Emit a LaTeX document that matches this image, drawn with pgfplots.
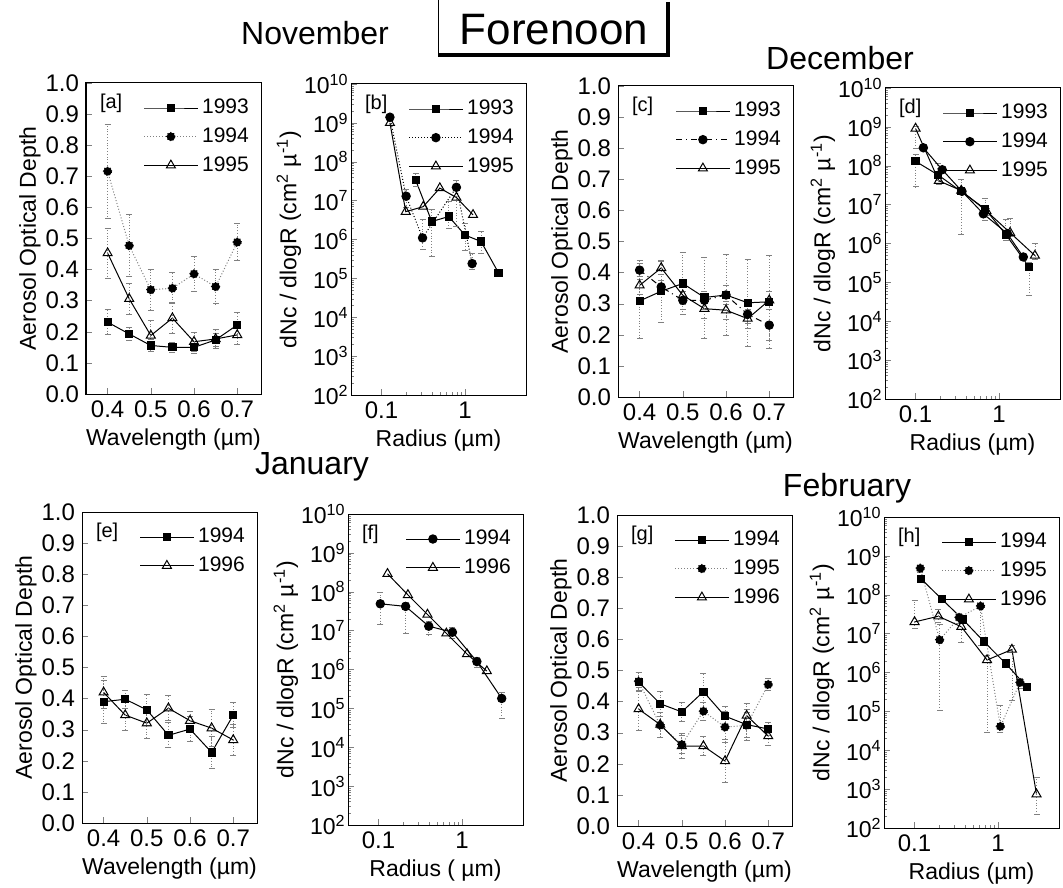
\documentclass[border=0pt]{standalone}
\usepackage{fontspec}
\setmainfont{Liberation Sans}
\usepackage{pgfplots}
\pgfplotsset{compat=1.18}

\pgfplotsset{
  base/.style={scale only axis, width=87.5pt, height=155.5pt, anchor=north west,
    axis line style={line width=0.5pt}, tick align=inside, tick pos=left,
    major tick length=3pt, minor tick length=1.5pt,
    every tick label/.append style={font=\fontsize{12}{13}\selectfont},
    label style={font=\fontsize{11.5}{13}\selectfont},
    xlabel style={at={(axis description cs:0.5,-0.145)}, anchor=center},
    legend style={at={(rel axis cs:0.99,0.975)}, anchor=north east, draw=none, fill=none,
      font=\fontsize{10.5}{12}\selectfont, row sep=1.5pt},
    legend cell align=left,
    legend image code/.code={\draw[mark repeat=2,mark phase=2,##1] plot coordinates {(0cm,0cm)(0.47cm,0cm)(0.94cm,0cm)};},
    clip=false},
  aod/.style={base, xmin=0.35, xmax=0.755, ymin=0, ymax=1,
    xtick={0.4,0.5,0.6,0.7}, ytick={0,0.1,0.2,0.3,0.4,0.5,0.6,0.7,0.8,0.9,1},
    /pgf/number format/assume math mode=true, /pgf/number format/fixed,
    /pgf/number format/fixed zerofill, /pgf/number format/precision=1,
    ylabel style={at={(axis description cs:-0.32,0.5)}, anchor=center},
    xlabel={Wavelength (µm)}, ylabel={Aerosol Optical Depth}},
  psd/.style={base, xmin=0.043, xmax=5.4, ymin=1e2, ymax=1e10,
    xtick={0.1,1}, xticklabels={0.1,1},
    ytick={1e2,1e3,1e4,1e5,1e6,1e7,1e8,1e9,1e10},
    yticklabel style={font=\fontsize{11.5}{12}\selectfont, inner xsep=1pt},
    yticklabels={10\textsuperscript{2},10\textsuperscript{3},10\textsuperscript{4},10\textsuperscript{5},10\textsuperscript{6},10\textsuperscript{7},10\textsuperscript{8},10\textsuperscript{9},10\textsuperscript{10}},
    ylabel style={at={(axis description cs:-0.355,0.5)}, anchor=center},
    xlabel={Radius (µm)}, ylabel={dNc / dlogR (cm\textsuperscript{2} µ\textsuperscript{-1})}},
  sq/.style={black, line width=0.5pt, mark=square*, mark size=1.8pt, mark options={solid}},
  ci/.style={black, line width=0.5pt, mark=*, mark size=2.1pt, mark options={solid}},
  tr/.style={black, line width=0.5pt, mark=triangle, mark size=2.6pt, mark options={solid, fill=white}},
  err/.style={/pgfplots/error bars/y dir=both, /pgfplots/error bars/y explicit,
    /pgfplots/error bars/error bar style={densely dotted, gray, line width=0.4pt},
    /pgfplots/error bars/error mark options={rotate=90, gray, mark size=1.5pt, solid}},
  lerr/.style={/pgfplots/error bars/y dir=both, /pgfplots/error bars/y explicit relative,
    /pgfplots/error bars/error bar style={densely dotted, gray, line width=0.4pt},
    /pgfplots/error bars/error mark options={rotate=90, gray, mark size=1.5pt, solid}},
}
\newcommand{\plab}[1]{\node[anchor=west,font=\fontsize{10}{12}\selectfont] at (rel axis cs:0.04,0.935) {[#1]};}

\begin{document}
\begin{tikzpicture}
\path[use as bounding box] (0,0) rectangle (531.5pt,-443.5pt);

% Title box
\draw[line width=0.5pt] (219pt,0pt) -- (219pt,-27.5pt);
\draw[line width=2pt] (334pt,-1pt) -- (334pt,-27.5pt) -- (219pt,-27.5pt);
\node[font=\fontsize{22}{24}\selectfont] at (277pt,-15pt) {Forenoon};
\node[font=\fontsize{16}{18}\selectfont] at (157.5pt,-16.5pt) {November};
\node[font=\fontsize{16}{18}\selectfont] at (420pt,-29pt) {December};
\node[font=\fontsize{16}{18}\selectfont] at (156pt,-233.5pt) {January};
\node[font=\fontsize{16}{18}\selectfont] at (423.5pt,-244pt) {February};

% ---------------- (a)
\begin{axis}[aod, at={(43pt,-41.5pt)}]
\plab{a}
\addplot[sq, err] table[y error index=2]{
0.40 0.231 0.04
0.45 0.193 0.02
0.50 0.156 0.02
0.55 0.150 0.015
0.60 0.150 0.02
0.65 0.174 0.02
0.70 0.222 0.04
};
\addlegendentry{1993}
\addplot[ci, densely dotted, gray, mark options={black}, err] table[y error index=2]{
0.40 0.716 0.15
0.45 0.477 0.10
0.50 0.335 0.065
0.55 0.340 0.05
0.60 0.386 0.055
0.65 0.345 0.055
0.70 0.488 0.06
};
\addlegendentry{1994}
\addplot[tr, err] table[y error index=2]{
0.40 0.453 0.08
0.45 0.306 0.05
0.50 0.188 0.05
0.55 0.244 0.05
0.60 0.168 0.03
0.65 0.177 0.03
0.70 0.190 0.03
};
\addlegendentry{1995}
\end{axis}

% ---------------- (b)
\begin{loglogaxis}[psd, at={(175.5pt,-42pt)}]
\plab{b}
\addplot[sq, lerr] table[y error plus index=2, y error minus index=3]{
0.256 3.4e7 0.5 0.3
0.40 2.9e6 1.0 0.87
0.64 3.9e6 1.5 0.5
1.0 1.3e6 1.0 0.6
1.56 8.9e5 0.8 0.5
2.52 1.4e5 0.2 0.2
};
\addlegendentry{1993}
\addplot[ci, densely dotted, lerr] table[y error plus index=2, y error minus index=3]{
0.126 1.4e9 0.2 0.2
0.197 1.3e7 0.5 0.5
0.31 1.1e6 2.0 0.5
0.79 2.2e7 0.5 0.9
1.22 2.4e5 0.8 0.3
};
\addlegendentry{1994}
\addplot[tr] table{
0.126 1.0e9
0.195 5.2e6
0.316 7.0e6
0.50 2.1e7
0.79 1.2e7
1.25 4.3e6
};
\addlegendentry{1995}
\end{loglogaxis}

% ---------------- (c)
\begin{axis}[aod, at={(309pt,-43pt)}]
\plab{c}
\addplot[sq, err] table[y error index=2]{
0.40 0.309 0.12
0.45 0.340 0.10
0.50 0.365 0.10
0.55 0.320 0.13
0.60 0.328 0.13
0.65 0.303 0.14
0.70 0.306 0.15
};
\addlegendentry{1993}
\addplot[ci, dash dot, err] table[y error index=2]{
0.40 0.408 0.03
0.45 0.354 0.02
0.50 0.311 0.03
0.55 0.311 0.03
0.60 0.328 0.03
0.65 0.266 0.03
0.70 0.231 0.05
};
\addlegendentry{1994}
\addplot[tr, err] table[y error index=2]{
0.40 0.359 0.03
0.45 0.415 0.02
0.50 0.327 0.03
0.55 0.284 0.03
0.60 0.279 0.03
0.65 0.252 0.03
0.70 0.311 0.03
};
\addlegendentry{1995}
\end{axis}

% ---------------- (d)
\begin{loglogaxis}[psd, at={(442.5pt,-44pt)}]
\plab{d}
\addplot[sq, lerr] table[y error plus index=2, y error minus index=3]{
0.100 1.3e8 0.5 0.78
0.184 5.9e7 1.0 0.3
0.35 2.2e7 1.0 0.92
0.68 7.8e6 0.8 0.5
1.21 1.7e6 1.5 0.3
2.29 2.5e5 0.3 0.82
};
\addlegendentry{1993}
\addplot[ci] table{
0.124 2.9e8
0.209 7.9e7
0.36 2.2e7
0.65 5.8e6
1.26 1.8e6
1.96 4.5e5
};
\addlegendentry{1994}
\addplot[tr, lerr] table[y error plus index=2, y error minus index=3]{
0.100 9.1e8 0.1 0.7
0.19 4.1e7 0.3 0.2
0.353 2.3e7 0.2 0.2
0.71 6.8e6 0.2 0.2
1.36 1.9e6 1.3 0.2
2.7 4.9e5 1.0 0.2
};
\addlegendentry{1995}
\end{loglogaxis}

% ---------------- (e)
\begin{axis}[aod, at={(41pt,-256pt)}]
\plab{e}
\addplot[sq, err] table[y error index=2]{
0.40 0.390 0.07
0.45 0.398 0.03
0.50 0.364 0.05
0.55 0.282 0.04
0.60 0.302 0.04
0.65 0.227 0.05
0.70 0.347 0.04
};
\addlegendentry{1994}
\addplot[tr, err] table[y error index=2]{
0.40 0.420 0.05
0.45 0.347 0.05
0.50 0.321 0.05
0.55 0.369 0.04
0.60 0.329 0.03
0.65 0.305 0.06
0.70 0.267 0.05
};
\addlegendentry{1996}
\end{axis}

% ---------------- (f)
\begin{loglogaxis}[psd, at={(174pt,-257pt)}, xlabel={Radius ( µm)}]
\plab{f}
\addplot[ci, lerr] table[y error plus index=2, y error minus index=3]{
0.105 4.9e7 1.0 0.7
0.211 4.2e7 0.3 0.8
0.40 1.3e7 0.3 0.4
0.77 9.1e6 0.3 0.3
1.51 1.6e6 0.3 0.3
3.0 1.8e5 0.4 0.7
};
\addlegendentry{1994}
\addplot[tr] table{
0.128 2.9e8
0.225 8.3e7
0.386 2.6e7
0.65 8.5e6
1.15 2.5e6
1.99 9.1e5
};
\addlegendentry{1996}
\end{loglogaxis}

% ---------------- (g)
\begin{axis}[aod, at={(308.5pt,-257.5pt)}]
\plab{g}
\addplot[sq, err] table[y error index=2]{
0.40 0.463 0.03
0.45 0.393 0.04
0.50 0.367 0.03
0.55 0.432 0.06
0.60 0.353 0.03
0.65 0.326 0.04
0.70 0.312 0.02
};
\addlegendentry{1994}
\addplot[ci, densely dotted, gray, mark options={black}, err] table[y error index=2]{
0.40 0.465 0.03
0.45 0.324 0.04
0.50 0.262 0.03
0.55 0.369 0.03
0.60 0.318 0.05
0.65 0.324 0.05
0.70 0.455 0.02
};
\addlegendentry{1995}
\addplot[tr, err] table[y error index=2]{
0.40 0.376 0.07
0.45 0.326 0.04
0.50 0.257 0.04
0.55 0.257 0.03
0.60 0.209 0.07
0.65 0.355 0.04
0.70 0.289 0.03
};
\addlegendentry{1996}
\end{axis}

% ---------------- (h)
\begin{loglogaxis}[psd, at={(442pt,-258.5pt)}]
\plab{h}
\addplot[sq] table{
0.119 2.6e8
0.211 7.8e7
0.381 2.3e7
0.676 6.3e6
1.24 1.7e6
2.21 4.3e5
};
\addlegendentry{1994}
\addplot[ci, densely dotted, gray, mark options={black}, lerr] table[y error plus index=2, y error minus index=3]{
0.117 4.8e8 0.2 0.2
0.20 6.9e6 1.5 0.985
0.342 2.6e7 0.3 0.3
0.618 5.1e7 0.2 0.9
1.07 4.1e4 2.5 0.3
1.84 5.5e5 0.3 0.3
};
\addlegendentry{1995}
\addplot[tr, lerr] table[y error plus index=2, y error minus index=3]{
0.100 2.0e7 2.5 0.3
0.193 2.8e7 0.5 0.3
0.364 1.5e7 0.3 0.6
0.74 2.1e6 0.3 0.986
1.47 3.9e6 0.3 0.95
2.9 7.4e2 1.7 0.7
};
\addlegendentry{1996}
\end{loglogaxis}
\end{tikzpicture}
\end{document}
